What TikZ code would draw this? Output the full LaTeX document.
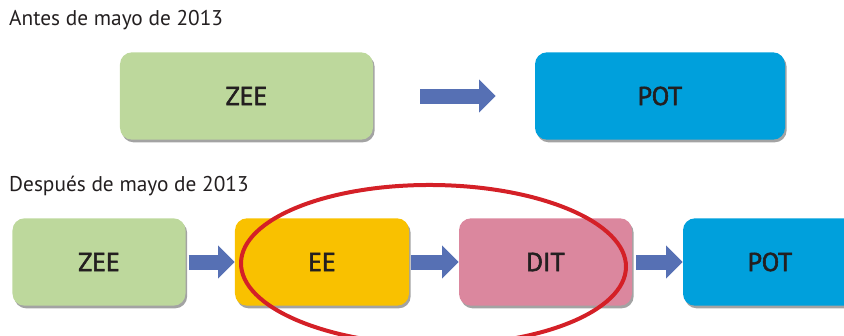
\documentclass[tikz,border=0pt]{standalone}
\usepackage{fontspec}
\setmainfont{PT Sans}
\newfontfamily\stagefont{PT Sans}[FakeBold=2.2]
\usepackage{tikz}
\usetikzlibrary{arrows.meta,shadows,shapes.geometric}

\definecolor{zeegreen}{HTML}{BDD89C}
\definecolor{potblue}{HTML}{00A0DC}
\definecolor{eeorange}{HTML}{F9C100}
\definecolor{ditpink}{HTML}{DB879E}
\definecolor{flowblue}{HTML}{5670B4}
\definecolor{ringred}{HTML}{D42027}
\definecolor{txtgray}{HTML}{231F20}

\begin{document}
\begin{tikzpicture}[x=0.03cm,y=-0.03cm,
    stage/.style={rounded corners=0.36cm,minimum height=2.62cm,
      text=txtgray,font=\stagefont\fontsize{22}{26}\selectfont,
      drop shadow={shadow xshift=0.05cm,shadow yshift=-0.08cm,fill=black!45,opacity=0.8}},
    flow/.style={draw=flowblue,line width=0.45cm,
      -{Triangle[length=0.5cm,width=0.96cm]}},
    heading/.style={anchor=west,text=txtgray,font=\fontsize{18.2}{22}\selectfont,inner sep=0pt}]
    \useasboundingbox (0,0) rectangle (844,335);
    \clip (0,0) rectangle (844,335);
    % antes
    \node[heading] (title1) at (9,20) {Antes de mayo de 2013};
    \node[stage,fill=zeegreen,minimum width=7.59cm] (zeeA) at (246.5,96) {ZEE};
    \node[stage,fill=potblue,minimum width=7.5cm] (potA) at (660,96) {POT};
    \draw[flow,shorten <=1.41cm,shorten >=1.17cm] (zeeA) -- (potA);
    % despues
    \node[heading] (title2) at (9,186) {Después de mayo de 2013};
    \node[stage,fill=zeegreen,minimum width=5.19cm] (zeeB) at (99,262) {ZEE};
    \node[stage,fill=eeorange,minimum width=5.22cm] (eeB) at (322,262) {EE};
    \node[stage,fill=ditpink,minimum width=5.19cm] (ditB) at (545.5,262) {DIT};
    \node[stage,fill=potblue,minimum width=5.22cm] (potB) at (770,262) {POT};
    \draw[flow,shorten <=0.09cm] (zeeB) -- (eeB);
    \draw[flow,shorten <=0.06cm] (eeB) -- (ditB);
    \draw[flow,shorten <=0.12cm] (ditB) -- (potB);
    % cambio
    \node[draw=ringred,line width=0.12cm,ellipse,minimum width=11.55cm,
      minimum height=4.8cm,inner sep=0pt,rotate=-0.6] (ring) at (433.5,265) {};
\end{tikzpicture}
\end{document}
